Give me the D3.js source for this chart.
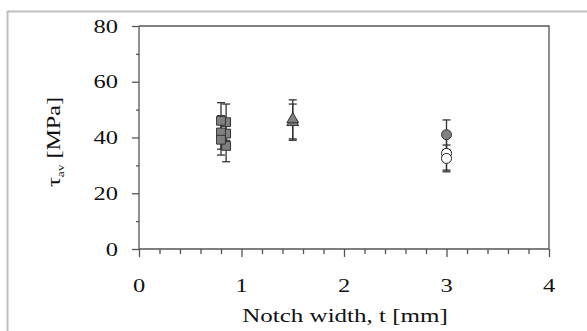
<!DOCTYPE html>
<html><head><meta charset="utf-8">
<script src="https://cdn.jsdelivr.net/npm/d3@7"></script>
<style>body{margin:0;background:#fff}svg{display:block}</style>
</head><body>
<script>
// Data
const xTicks = [0, 1, 2, 3, 4];
const yTicks = [0, 20, 40, 60, 80];
const squareX = [0.85, 0.85, 0.85, 0.8, 0.8, 0.8];
const squareY = [45.5, 41.4, 37.0, 46.0, 41.8, 39.2];
const squareErr = [6.5, 5.0, 5.7, 6.5, 6.0, 5.5];
const triX = [1.5, 1.5];
const triY = [45.5, 46.5];
const triErr = [6.5, 7.0];
const grayCircX = [3];
const grayCircY = [41.0];
const grayCircErr = [5.3];
const whiteCircX = [3, 3];
const whiteCircY = [34.3, 32.5];
const whiteCircErr = [6.0, 4.8];

const W = 587, H = 331;
const svg = d3.select("body").append("svg").attr("width", W).attr("height", H);
const FONT = "'Liberation Serif', 'Times New Roman', serif";
const SX = 1.36;

// outer frame
svg.append("rect").attr("x", 7.5).attr("y", 11.5).attr("width", 590).attr("height", 330)
  .attr("fill", "none").attr("stroke", "#c0c0c0").attr("stroke-width", 2);

const x = d3.scaleLinear().domain([0, 4]).range([139, 549]);
const y = d3.scaleLinear().domain([0, 80]).range([249, 26]);
const axisColor = "#555";

// plot box top/right
svg.append("path").attr("d", `M${x(0)},${y(80)}H${x(4)}V${y(0)}`)
  .attr("fill", "none").attr("stroke", axisColor).attr("stroke-width", 1.3);

// y axis
const yAxisMinor = d3.axisLeft(y).tickValues(d3.range(10, 80, 20)).tickSize(3).tickFormat("");
const yAxisMajor = d3.axisLeft(y).tickValues(yTicks).tickSize(7).tickFormat("");
[yAxisMinor, yAxisMajor].forEach(a => {
  const g = svg.append("g").attr("transform", `translate(${x(0)},0)`).call(a);
  g.select(".domain").remove();
  g.selectAll("line").attr("stroke", axisColor).attr("stroke-width", 1.3);
});
// x axis
const xAxisMinor = d3.axisBottom(x).tickValues(d3.range(0.2, 4, 0.2).filter(v => Math.abs(v - Math.round(v)) > 1e-6)).tickSize(5).tickFormat("");
const xAxisMajor = d3.axisBottom(x).tickValues(xTicks).tickSize(8).tickFormat("");
[xAxisMinor, xAxisMajor].forEach(a => {
  const g = svg.append("g").attr("transform", `translate(0,${y(0)})`).call(a);
  g.select(".domain").remove();
  g.selectAll("line").attr("stroke", axisColor).attr("stroke-width", 1.3);
});
// axis lines
svg.append("line").attr("x1", x(0)).attr("x2", x(0)).attr("y1", y(80)).attr("y2", y(0))
  .attr("stroke", axisColor).attr("stroke-width", 1.3);
svg.append("line").attr("x1", x(0)).attr("x2", x(4)).attr("y1", y(0)).attr("y2", y(0))
  .attr("stroke", axisColor).attr("stroke-width", 1.3);

// tick labels
yTicks.forEach(v => {
  svg.append("text").attr("transform", `translate(118,${y(v) + 6.5}) scale(${SX},1)`)
    .attr("text-anchor", "end").attr("font-family", FONT).attr("font-size", 18)
    .attr("fill", "#111").text(v);
});
xTicks.forEach(v => {
  svg.append("text").attr("transform", `translate(${x(v)},292) scale(${SX},1)`)
    .attr("text-anchor", "middle").attr("font-family", FONT).attr("font-size", 18)
    .attr("fill", "#111").text(v);
});

// axis titles
svg.append("text").attr("transform", `translate(345,322) scale(1.39,1)`)
  .attr("text-anchor", "middle").attr("font-family", FONT).attr("font-size", 18)
  .attr("fill", "#111").text("Notch width, t [mm]");
const yt = svg.append("text").attr("transform", `translate(60,142) rotate(-90) scale(1.34,1)`)
  .attr("text-anchor", "middle").attr("font-family", FONT).attr("font-size", 18).attr("fill", "#111");
yt.append("tspan").text("τ");
yt.append("tspan").attr("font-size", 10).attr("dy", 4).text("av");
yt.append("tspan").attr("dy", -4).text(" [MPa]");

// error bars helper
function errBars(xs, ys, es) {
  const g = svg.append("g").attr("stroke", "#333").attr("stroke-width", 1.3);
  xs.forEach((xv, i) => {
    const cx = x(xv), top = y(ys[i] + es[i]), bot = y(ys[i] - es[i]);
    g.append("line").attr("x1", cx).attr("x2", cx).attr("y1", top).attr("y2", bot);
    g.append("line").attr("x1", cx - 4).attr("x2", cx + 4).attr("y1", top).attr("y2", top);
    g.append("line").attr("x1", cx - 4).attr("x2", cx + 4).attr("y1", bot).attr("y2", bot);
  });
}

errBars(squareX, squareY, squareErr);
errBars(triX, triY, triErr);
errBars(grayCircX, grayCircY, grayCircErr);
errBars(whiteCircX, whiteCircY, whiteCircErr);

// markers
const sym = (type, size) => d3.symbol().type(type).size(size)();
squareX.forEach((xv, i) => {
  svg.append("path").attr("d", sym(d3.symbolSquare, 78))
    .attr("transform", `translate(${x(xv)},${y(squareY[i])})`)
    .attr("fill", "#808080").attr("stroke", "#333").attr("stroke-width", 1);
});
triX.forEach((xv, i) => {
  svg.append("path").attr("d", sym(d3.symbolTriangle, 60))
    .attr("transform", `translate(${x(xv)},${y(triY[i])})`)
    .attr("fill", "#808080").attr("stroke", "#333").attr("stroke-width", 1);
});
grayCircX.forEach((xv, i) => {
  svg.append("circle").attr("cx", x(xv)).attr("cy", y(grayCircY[i])).attr("r", 5)
    .attr("fill", "#808080").attr("stroke", "#333").attr("stroke-width", 1);
});
whiteCircX.forEach((xv, i) => {
  svg.append("circle").attr("cx", x(xv)).attr("cy", y(whiteCircY[i])).attr("r", 5)
    .attr("fill", "#fff").attr("stroke", "#222").attr("stroke-width", 1);
});
</script>
</body></html>
